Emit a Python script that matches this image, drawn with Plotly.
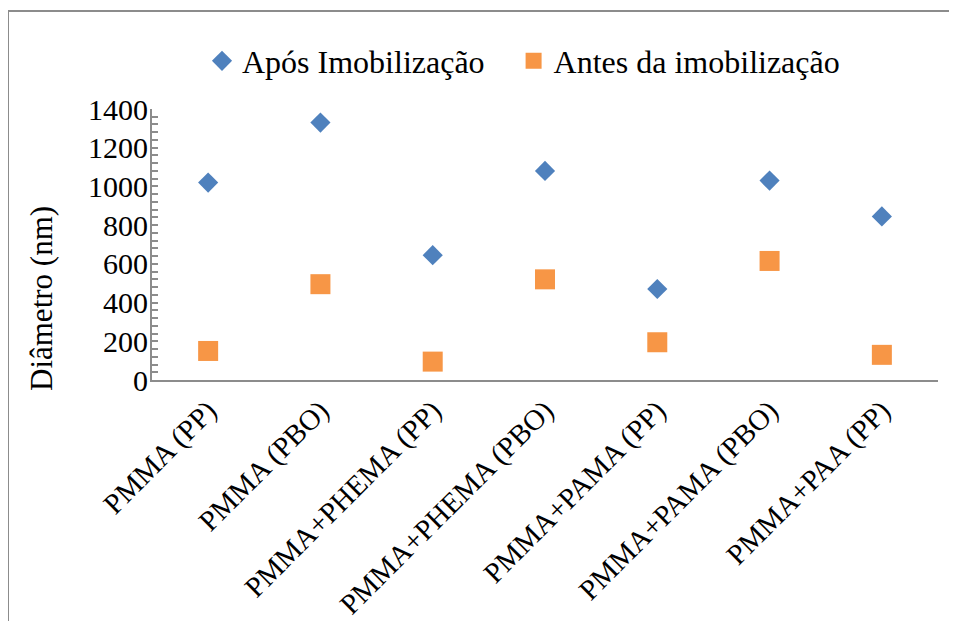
import plotly.graph_objects as go

categories = ["PMMA (PP)", "PMMA (PBO)", "PMMA+PHEMA (PP)", "PMMA+PHEMA (PBO)",
              "PMMA+PAMA (PP)", "PMMA+PAMA (PBO)", "PMMA+PAA (PP)"]
apos = [1020, 1330, 645, 1080, 470, 1030, 845]
antes = [150, 495, 95, 520, 195, 615, 130]
y_ticks = [0, 200, 400, 600, 800, 1000, 1200, 1400]

FONT = "Liberation Serif, Times New Roman, serif"
OFF = 8  # page body margin
W, H = 957 - OFF, 621 - OFF
L, R, T, B = 152 - OFF, 957 - 938, 109 - OFF, 621 - 380
pw, ph = W - L - R, H - T - B

fig = go.Figure()
fig.add_trace(go.Scatter(
    x=categories, y=apos, mode="markers",
    name="Após Imobilização" + "\u00a0" * 3,
    marker=dict(symbol="diamond", size=15.5, color="#4F81BD",
                line=dict(width=0))))
fig.add_trace(go.Scatter(
    x=categories, y=antes, mode="markers", name="Antes da imobilização",
    marker=dict(symbol="square", size=20, color="#F79646",
                line=dict(width=0))))

def px_x(p):  # p in reference page pixels
    return (p - OFF - L) / pw

def px_y(p):
    return 1 - (p - OFF - T) / ph

fig.update_layout(
    width=W, height=H,
    margin=dict(l=L, r=R, t=T, b=B, autoexpand=False),
    paper_bgcolor="white", plot_bgcolor="white",
    font=dict(family=FONT, size=30, color="black"),
    showlegend=True,
    legend=dict(orientation="h", x=px_x(202), xanchor="left",
                y=px_y(61), yanchor="middle",
                font=dict(family=FONT, size=32, color="black"),
                bgcolor="rgba(0,0,0,0)", itemwidth=30),
    xaxis=dict(type="category", range=[-0.5, 6.5], showgrid=False,
               showline=True, linecolor="#8C8C8C", linewidth=2,
               ticks="", tickangle=-45, zeroline=False,
               tickfont=dict(family=FONT, size=29, color="black")),
    yaxis=dict(range=[0, 1400], tickvals=y_ticks, showgrid=False,
               showline=True, linecolor="#8C8C8C", linewidth=2,
               ticks="inside", ticklen=6, tickwidth=1.5, tickcolor="#8C8C8C",
               minor=dict(dtick=40, tick0=0, ticks="inside", ticklen=6,
                          tickwidth=1.5, tickcolor="#8C8C8C", showgrid=False),
               zeroline=False, ticklabelstandoff=-4,
               tickfont=dict(family=FONT, size=30, color="black")),
    annotations=[dict(text="Diâmetro (nm)", xref="paper", yref="paper",
                      x=px_x(41), y=px_y(298), textangle=-90,
                      showarrow=False, xanchor="center", yanchor="middle",
                      font=dict(family=FONT, size=31, color="black"))],
    shapes=[
        dict(type="line", xref="paper", yref="paper",
             x0=px_x(8), x1=px_x(8), y0=px_y(11), y1=px_y(625),
             line=dict(color="#8C8C8C", width=2)),
        dict(type="line", xref="paper", yref="paper",
             x0=px_x(8), x1=px_x(960), y0=px_y(11), y1=px_y(11),
             line=dict(color="#8C8C8C", width=2)),
    ],
)

fig.write_html("out.html")
